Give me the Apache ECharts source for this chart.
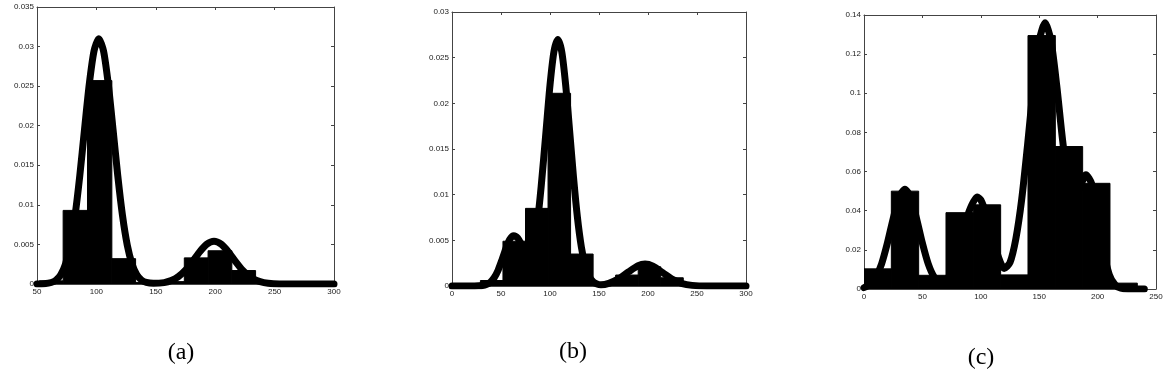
<!DOCTYPE html>
<html>
<head>
<meta charset="utf-8">
<script src="https://cdn.jsdelivr.net/npm/echarts@6/dist/echarts.min.js"></script>
<style>html,body{margin:0;padding:0;background:#fff;}#chart{width:1172px;height:386px;}</style>
</head>
<body>
<div id="chart"></div>
<script>
// ---------- Panel (a) ----------
const binEdgesA = [52, 72, 92.5, 113, 133, 153.5, 174, 194, 214, 234, 254, 274, 294];
const binHeightsA = [0.0004, 0.0093, 0.0257, 0.0032, 0.0002, 0.0003, 0.0033, 0.0042, 0.0017, 0.0002, 0.0001, 0.0001];
const curveXA = [50, 56, 62, 66, 70, 74, 78, 82, 86, 90, 94, 98, 102, 106, 110, 114, 118, 122, 126, 130, 134, 138, 142, 148, 157, 163, 169, 175, 181, 187, 193, 199, 205, 211, 217, 223, 229, 235, 241, 249, 260, 300];
const curveYA = [0, 0.00004, 0.00019, 0.00049, 0.00117, 0.00252, 0.0049, 0.00862, 0.01367, 0.01955, 0.02525, 0.02945, 0.031, 0.02945, 0.02525, 0.01955, 0.01367, 0.00862, 0.0049, 0.00252, 0.00117, 0.00049, 0.00019, 0.00008, 0.00017, 0.00043, 0.00093, 0.00175, 0.00287, 0.00408, 0.00503, 0.0054, 0.00503, 0.00408, 0.00287, 0.00175, 0.00093, 0.00043, 0.00017, 0.00004, 0, 0];
const xTicksA = [50, 100, 150, 200, 250, 300];
const yTicksA = [0, 0.005, 0.01, 0.015, 0.02, 0.025, 0.03, 0.035];

// ---------- Panel (b) ----------
const binEdgesB = [6, 29, 52, 75, 98, 121, 144, 167, 190, 213, 236, 259, 282];
const binHeightsB = [0.0002, 0.0006, 0.0049, 0.0085, 0.0211, 0.0035, 0.0003, 0.0012, 0.0021, 0.0009, 0.0002, 0.0001];
const curveXB = [0, 20, 27, 31, 35, 39, 43, 47, 51, 55, 59, 63, 67, 71, 75, 79, 83, 87, 91, 96, 100, 104, 108, 112, 116, 120, 124, 128, 132, 136, 140, 144, 148, 152, 160, 170, 180, 190, 197, 205, 215, 225, 235, 245, 260, 300];
const curveYB = [0, 0, 0.00002, 0.00005, 0.00016, 0.0004, 0.0009, 0.00172, 0.00286, 0.00411, 0.00512, 0.0055, 0.00525, 0.0045, 0.0037, 0.0036, 0.0046, 0.0069, 0.0109, 0.01703, 0.022, 0.02565, 0.027, 0.02565, 0.022, 0.01703, 0.01191, 0.0075, 0.00427, 0.0022, 0.00104, 0.00046, 0.00021, 0.00013, 0.00029, 0.00078, 0.00154, 0.00223, 0.0024, 0.00217, 0.00146, 0.00072, 0.00026, 0.00007, 0, 0];
const xTicksB = [0, 50, 100, 150, 200, 250, 300];
const yTicksB = [0, 0.005, 0.01, 0.015, 0.02, 0.025, 0.03];

// ---------- Panel (c) ----------
const binEdgesC = [0, 23.4, 46.8, 70.2, 93.6, 117, 140.4, 163.8, 187.2, 210.6, 234];
const binHeightsC = [0.0103, 0.050, 0.007, 0.039, 0.043, 0.0072, 0.1295, 0.0728, 0.054, 0.003];
const curveXC = [0, 5, 10, 15, 20, 25, 30, 35, 40, 45, 50, 55, 60, 65, 70, 75, 80, 85, 90, 97, 100, 105, 110, 115, 120, 125, 130, 135, 140, 145, 150, 155, 160, 165, 170, 175, 180, 185, 190, 195, 200, 205, 210, 215, 220, 226, 240];
const curveYC = [0.0007, 0.0022, 0.0058, 0.0127, 0.0234, 0.0360, 0.0467, 0.0510, 0.0467, 0.0360, 0.0234, 0.0128, 0.0062, 0.0036, 0.0045, 0.0090, 0.0172, 0.0285, 0.0397, 0.0470, 0.0455, 0.0376, 0.0266, 0.0165, 0.0105, 0.0135, 0.0256, 0.0457, 0.0734, 0.1034, 0.127, 0.136, 0.1271, 0.104, 0.0762, 0.0546, 0.0471, 0.0522, 0.0584, 0.0537, 0.0376, 0.0194, 0.0074, 0.0021, 0.0004, 0, 0];
const xTicksC = [0, 50, 100, 150, 200, 250];
const yTicksC = [0, 0.02, 0.04, 0.06, 0.08, 0.1, 0.12, 0.14];

const panelLabels = ['(a)', '(b)', '(c)'];

// ---------- build ----------
const panels = [
  { edges: binEdgesA, heights: binHeightsA, cx: curveXA, cy: curveYA, xt: xTicksA, yt: yTicksA, grid: { left: 37, top: 7, width: 297, height: 277 } },
  { edges: binEdgesB, heights: binHeightsB, cx: curveXB, cy: curveYB, xt: xTicksB, yt: yTicksB, grid: { left: 452, top: 12, width: 294, height: 274 } },
  { edges: binEdgesC, heights: binHeightsC, cx: curveXC, cy: curveYC, xt: xTicksC, yt: yTicksC, grid: { left: 864, top: 15, width: 292, height: 274 } }
];

const frameColor = '#444';
const labelFont = { fontSize: 8, color: '#222', fontFamily: 'Liberation Sans' };
const fmt = v => String(+(+v).toFixed(4));

function renderHist(params, api) {
  const p0 = api.coord([api.value(0), api.value(2)]);
  const p1 = api.coord([api.value(1), 0]);
  return {
    type: 'rect',
    shape: { x: p0[0], y: p0[1], width: p1[0] - p0[0], height: p1[1] - p0[1] },
    style: { fill: '#000', stroke: '#000', lineWidth: 1 }
  };
}

const grid = [], xAxis = [], yAxis = [], series = [];
panels.forEach((p, i) => {
  grid.push(Object.assign({ show: false }, p.grid));
  const xmin = p.xt[0], xmax = p.xt[p.xt.length - 1], xint = p.xt[1] - p.xt[0];
  const ymin = p.yt[0], ymax = p.yt[p.yt.length - 1], yint = p.yt[1] - p.yt[0];
  const common = {
    type: 'value', gridIndex: i,
    axisLine: { show: true, onZero: false, lineStyle: { color: frameColor, width: 1 } },
    axisTick: { show: true, inside: true, length: 3, lineStyle: { color: frameColor } },
    splitLine: { show: false }
  };
  xAxis.push(Object.assign({}, common, {
    position: 'bottom', min: xmin, max: xmax, interval: xint,
    axisLabel: Object.assign({ margin: 4, formatter: fmt }, labelFont)
  }));
  xAxis.push(Object.assign({}, common, {
    position: 'top', min: xmin, max: xmax, interval: xint,
    axisLabel: { show: false }
  }));
  yAxis.push(Object.assign({}, common, {
    position: 'left', min: ymin, max: ymax, interval: yint,
    axisLabel: Object.assign({ margin: 3, formatter: fmt }, labelFont)
  }));
  yAxis.push(Object.assign({}, common, {
    position: 'right', min: ymin, max: ymax, interval: yint,
    axisLabel: { show: false }
  }));
  const histData = p.heights.map((h, k) => [p.edges[k], p.edges[k + 1], h]);
  series.push({
    type: 'custom', xAxisIndex: i * 2, yAxisIndex: i * 2,
    renderItem: renderHist, data: histData,
    encode: { x: [0, 1], y: 2 }, clip: true, z: 2, silent: true
  });
  series.push({
    type: 'line', xAxisIndex: i * 2, yAxisIndex: i * 2,
    data: p.cx.map((x, k) => [x, p.cy[k]]),
    showSymbol: false, smooth: 0.25,
    lineStyle: { color: '#000', width: 7, cap: 'round', join: 'round' },
    z: 3, silent: true
  });
});

const chart = echarts.init(document.getElementById('chart'), null, { renderer: 'canvas' });
chart.setOption({
  backgroundColor: '#fff',
  animation: false,
  grid, xAxis, yAxis, series,
  graphic: [
    { type: 'text', x: 181, y: 353, style: { text: panelLabels[0], font: '24px "Liberation Serif"', textAlign: 'center', textVerticalAlign: 'middle', fill: '#000' } },
    { type: 'text', x: 573, y: 352, style: { text: panelLabels[1], font: '24px "Liberation Serif"', textAlign: 'center', textVerticalAlign: 'middle', fill: '#000' } },
    { type: 'text', x: 981, y: 358, style: { text: panelLabels[2], font: '24px "Liberation Serif"', textAlign: 'center', textVerticalAlign: 'middle', fill: '#000' } }
  ]
});
</script>
</body>
</html>
